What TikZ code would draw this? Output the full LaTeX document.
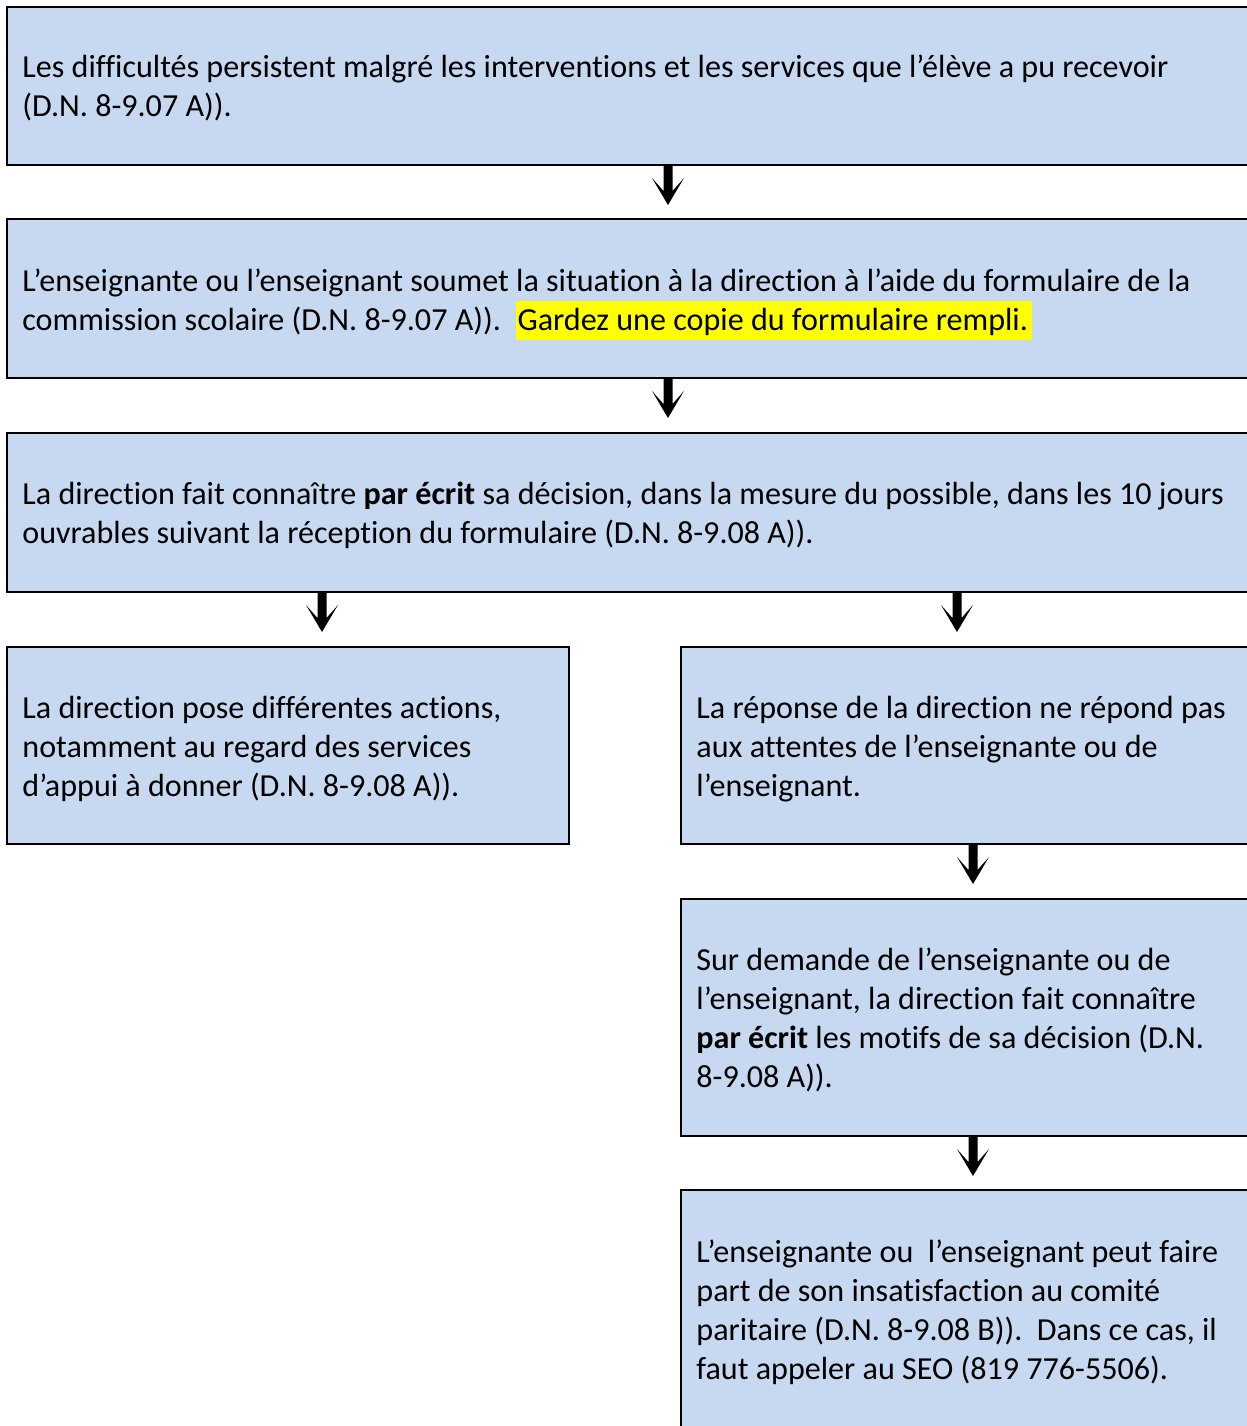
\documentclass[tikz,border=0pt]{standalone}
\usepackage{fontspec}
\setmainfont{Carlito}[Ligatures=NoCommon]
\usepackage{xcolor}
\definecolor{boxblue}{HTML}{C6D9F1}
\definecolor{hlyellow}{HTML}{FFFF00}
\newcommand\hlt[1]{{\setlength{\fboxsep}{0pt}\colorbox{hlyellow}{\hspace{1pt}\rule[-5pt]{0pt}{19.5pt}#1\hspace{2pt}}}}
\newcommand\boxlines[1]{\parbox[t]{700pt}{\raggedright #1}}
\frenchspacing
\begin{document}
\begin{tikzpicture}[x=0.5pt,y=-0.5pt,
  flowbox/.style={draw=black, line width=1pt, fill=boxblue, rectangle, inner sep=0pt, anchor=north west},
  txt/.style={inner sep=0pt, anchor=base west, font=\fontsize{16.05pt}{19.5pt}\selectfont},
  pics/downarrow/.style={code={\fill[black] (-4.5,-1) -- (4.5,-1) -- (4.5,25) -- (16,12) -- (0,39) -- (-16,12) -- (-4.5,25) -- cycle;}}]
\useasboundingbox (0,0) rectangle (1247,1426);
\clip (0,0) rectangle (1247,1426);
% boxes
\node[flowbox, minimum width=662pt, minimum height=79pt] (b1) at (6,6) {};
\node[flowbox, minimum width=662pt, minimum height=79.5pt] (b2) at (6,218) {};
\node[flowbox, minimum width=662pt, minimum height=79.5pt] (b3) at (6,432) {};
\node[flowbox, minimum width=281pt, minimum height=98.5pt] (b4) at (6,646) {};
\node[flowbox, minimum width=320pt, minimum height=98.5pt] (b5) at (680,646) {};
\node[flowbox, minimum width=320pt, minimum height=118.5pt] (b6) at (680,898) {};
\node[flowbox, minimum width=320pt, minimum height=140pt] (b7) at (680,1189) {};
% texts
\node[txt] (t1) at (22,77) {\boxlines{Les difficultés persistent malgré les interventions et les services que l’élève a pu recevoir\\(D.N. 8-9.07 A)).}};
\node[txt] (t2) at (22,291) {\boxlines{L’enseignante ou l’enseignant soumet la situation à la direction à l’aide du formulaire de la\\commission scolaire (D.N. 8-9.07 A)).~ \hlt{Gardez une copie du formulaire rempli.}}};
\node[txt] (t3) at (22,504) {\boxlines{La direction fait connaître \textbf{par écrit} sa décision, dans la mesure du possible, dans les 10 jours\\ouvrables suivant la réception du formulaire (D.N. 8-9.08 A)).}};
\node[txt] (t4) at (22,718) {\boxlines{La direction pose différentes actions,\\notamment au regard des services\\d’appui à donner (D.N. 8-9.08 A)).}};
\node[txt] (t5) at (696,718) {\boxlines{La réponse de la direction ne répond pas\\aux attentes de l’enseignante ou de\\l’enseignant.}};
\node[txt] (t6) at (696,970) {\boxlines{Sur demande de l’enseignante ou de\\l’enseignant, la direction fait connaître\\\textbf{par écrit} les motifs de sa décision (D.N.\\8-9.08 A)).}};
\node[txt] (t7) at (696,1262) {\boxlines{L’enseignante ou~ l’enseignant peut faire\\part de son insatisfaction au comité\\paritaire (D.N. 8-9.08 B)).~ Dans ce cas, il\\faut appeler au SEO (819 776-5506).}};
% arrow columns
\coordinate (c1) at (668,0);
\coordinate (c2) at (322,0);
\coordinate (c3) at (957,0);
\coordinate (c4) at (973,0);
\pic at (b1.south -| c1) {downarrow};
\pic at (b2.south -| c1) {downarrow};
\pic at (b3.south -| c2) {downarrow};
\pic at (b3.south -| c3) {downarrow};
\pic at (b5.south -| c4) {downarrow};
\pic at (b6.south -| c4) {downarrow};
\end{tikzpicture}
\end{document}
